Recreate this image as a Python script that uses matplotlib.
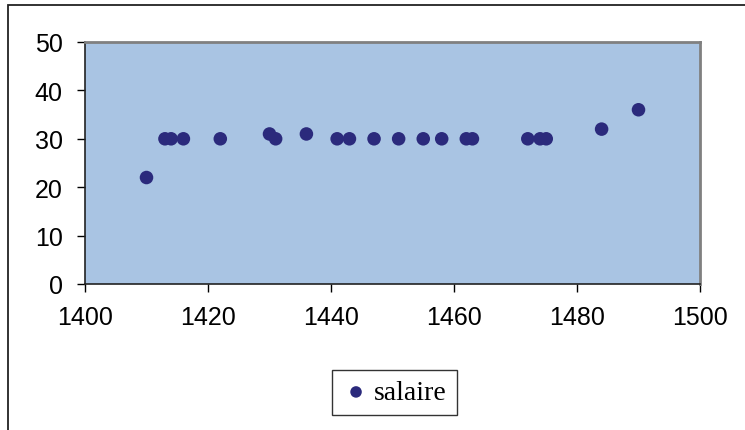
import matplotlib
matplotlib.use("Agg")
import matplotlib.pyplot as plt
from matplotlib.patches import Rectangle

years = [1410, 1413, 1414, 1416, 1422, 1430, 1431, 1436, 1441, 1443, 1447,
         1451, 1455, 1458, 1462, 1463, 1472, 1474, 1475, 1484, 1490]
salaire = [22, 30, 30, 30, 30, 31, 30, 31, 30, 30, 30,
           30, 30, 30, 30, 30, 30, 30, 30, 32, 36]
series_label = "salaire"
x_ticks = [1400, 1420, 1440, 1460, 1480, 1500]
y_ticks = [0, 10, 20, 30, 40, 50]

W, H = 745, 431
fig = plt.figure(figsize=(W / 100, H / 100), dpi=100)

# outer chart frame (only left and top visible in reference)
fig.patches.append(Rectangle((8 / W, -0.05), 1.2, 1 - 6 / H + 0.05,
                             transform=fig.transFigure, fill=False,
                             edgecolor="#222222", linewidth=1.3))

ax = fig.add_axes([85 / W, 1 - 285 / H, (700 - 85) / W, (285 - 43) / H])
ax.set_facecolor("#A9C4E3")
marker_color = "#2B2A7C"
ax.scatter(years, salaire, s=95, color=marker_color, edgecolors="none",
           label=series_label, zorder=3)

ax.set_xlim(1400, 1500)
ax.set_ylim(0, 50)
ax.set_xticks(x_ticks)
ax.set_yticks(y_ticks)
ax.tick_params(direction="out", length=6, width=1, labelsize=18,
               colors="#000000")
ax.tick_params(axis="y", pad=10)
ax.tick_params(axis="x", pad=9)
for lab in ax.get_xticklabels() + ax.get_yticklabels():
    lab.set_family("Liberation Sans")

for side in ("left", "bottom"):
    ax.spines[side].set_color("#222222")
    ax.spines[side].set_linewidth(1.2)
for side in ("top", "right"):
    ax.spines[side].set_color("#808080")
    ax.spines[side].set_linewidth(2)

leg = fig.legend(loc="center", bbox_to_anchor=(394.5 / W, 1 - 393.5 / H),
                 frameon=True, fancybox=False, shadow=False,
                 prop={"family": "Liberation Serif", "size": 20},
                 handletextpad=0.15, borderpad=0.35, handlelength=1.0,
                 markerscale=0.85)
leg.get_frame().set_edgecolor("#000000")
leg.get_frame().set_linewidth(1.0)

fig.savefig("out.png", dpi=100)
